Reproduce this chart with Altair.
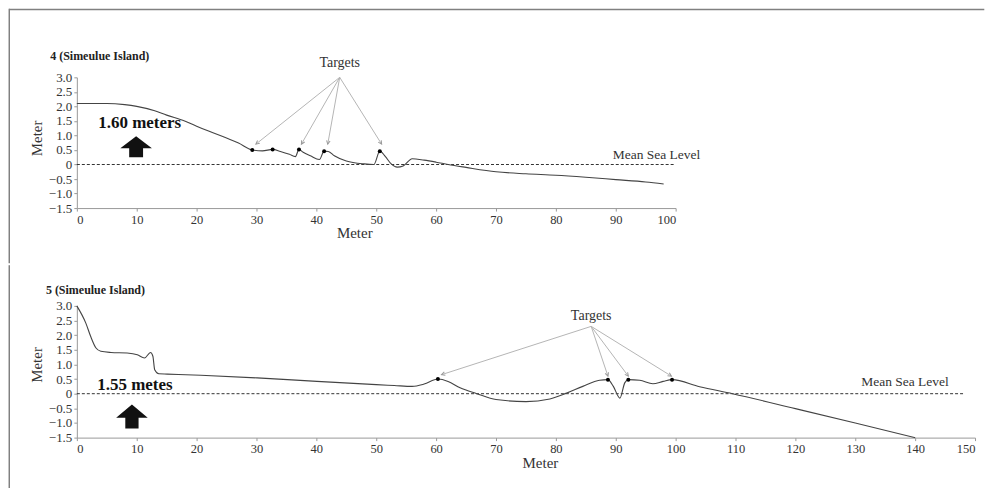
import math
import altair as alt
import pandas as pd

FONT = "Liberation Serif"

# ---------------- Profile 4 ----------------
x4 = [0, 3, 5, 8, 10, 13, 15, 18, 20, 22, 25, 27, 29.3, 31, 32.7, 34, 35.5, 36.5, 37.1, 37.8, 39,
      40.5, 41.3, 42, 43, 45, 48, 49.6, 50.6, 51.5, 52.5, 53.5, 54.5, 56, 58, 60, 62, 65, 70, 75,
      80, 85, 90, 95, 98]
y4 = [2.1, 2.1, 2.1, 2.06, 2.0, 1.85, 1.7, 1.5, 1.32, 1.15, 0.91, 0.74, 0.5, 0.47, 0.52, 0.45,
      0.35, 0.27, 0.52, 0.42, 0.3, 0.17, 0.46, 0.45, 0.3, 0.12, 0.02, 0.0, 0.46, 0.28, 0.02, -0.09,
      -0.05, 0.2, 0.15, 0.08, 0.0, -0.1, -0.25, -0.32, -0.37, -0.44, -0.52, -0.6, -0.67]
pts4_x = [29.3, 32.7, 37.1, 41.3, 50.6]
pts4_y = [0.5, 0.52, 0.52, 0.46, 0.46]
apex4 = (43.9, 3.0)
tips4_x = [29.9, 37.5, 41.9, 50.9]
tips4_y = [0.7, 0.7, 0.7, 0.7]

# ---------------- Profile 5 ----------------
x5 = [0, 1.5, 2.3, 3.2, 4, 5.7, 8.4, 10.1, 11.3, 12.3, 12.7, 13.0, 13.7, 15.1, 20.7, 30.1, 40.1,
      50, 53, 56, 58, 60.3, 62, 64, 66.8, 70, 75, 79, 81.8, 84.5, 87.3, 88.7, 89.6, 90.7, 91.5,
      92.1, 94, 96.2, 97.9, 99.4, 104, 109.5, 120, 130, 140]
y5 = [3.0, 2.41, 1.96, 1.56, 1.45, 1.41, 1.39, 1.33, 1.22, 1.41, 1.28, 0.82, 0.68, 0.67, 0.63,
      0.54, 0.42, 0.31, 0.28, 0.25, 0.33, 0.5, 0.42, 0.2, 0.0, -0.2, -0.27, -0.18, 0.02, 0.25,
      0.46, 0.48, 0.25, -0.15, 0.37, 0.48, 0.46, 0.34, 0.42, 0.48, 0.24, 0.0, -0.51, -1.0, -1.5]
pts5_x = [60.3, 88.7, 92.1, 99.4]
pts5_y = [0.5, 0.48, 0.48, 0.48]
apex5 = (85.9, 2.3)
tips5_x = [60.9, 88.7, 92.1, 99.3]
tips5_y = [0.65, 0.6, 0.6, 0.6]

y_ticks = [-1.5, -1.0, -0.5, 0, 0.5, 1.0, 1.5, 2.0, 2.5, 3.0]
y_domain = [-1.5, 3.0]

titles = ["4 (Simeulue Island)", "5 (Simeulue Island)"]

# annotation texts
targets4 = {"x": [43.9], "y": [3.5], "t": ["Targets"]}
targets5 = {"x": [85.9], "y": [2.66], "t": ["Targets"]}
msl4 = {"x": [96.8], "y": [0.34], "t": ["Mean Sea Level"]}
msl5 = {"x": [138.3], "y": [0.39], "t": ["Mean Sea Level"]}
big4 = {"x": [10.5], "y": [1.43], "t": ["1.60 meters"]}
big5 = {"x": [9.7], "y": [0.31], "t": ["1.55 metes"]}
arrow4 = {"x": [9.9], "y": [0.61]}
arrow5 = {"x": [9.2], "y": [-0.78]}

UP_ARROW4 = "M0,-0.66L1,0.09L0.44,0.09L0.44,0.66L-0.44,0.66L-0.44,0.09L-1,0.09Z"
UP_ARROW5 = "M0,-0.76L1,0.08L0.42,0.08L0.42,0.76L-0.42,0.76L-0.42,0.08L-1,0.08Z"
HEAD = "M-0.5,-1L0,0L0.5,-1"


def panel(xs, ys, px, py, apex, tx, ty, targets, msl, big, arrow, arrow_shape,
          xmax, msl_end, width, height, title, title_x, title_y,
          x_title_x, y_title_y, frame_top, frame_bottom, with_top_line):
    kx = width / xmax
    ky = height / (y_domain[1] - y_domain[0])
    xsc = alt.Scale(domain=[0, xmax], nice=False, zero=False)
    ysc = alt.Scale(domain=y_domain, nice=False, zero=False)
    xaxis = alt.Axis(values=list(range(0, xmax + 1, 10)), tickCount=40, grid=False, title="Meter",
                     domainColor="#999", tickColor="#999", tickSize=3, labelPadding=2,
                     labelOverlap=False,
                     labelFont=FONT, labelFontSize=12.5, labelColor="#333",
                     titleFont=FONT, titleFontSize=15, titleFontWeight="normal",
                     titleColor="#333", titlePadding=0, titleX=x_title_x)
    yaxis = alt.Axis(values=y_ticks, tickCount=40, grid=False, title="Meter",
                     labelExpr="datum.value == 0 ? '0' : format(datum.value, '.1f')",
                     labelOverlap=False,
                     domainColor="#999", tickColor="#999", tickSize=3, labelPadding=2,
                     labelFont=FONT, labelFontSize=13, labelColor="#333",
                     titleFont=FONT, titleFontSize=15, titleFontWeight="normal",
                     titleColor="#333", titlePadding=4, titleY=y_title_y)

    prof = pd.DataFrame({"x": xs, "y": ys})
    line = alt.Chart(prof).mark_line(color="#444", strokeWidth=1.1, interpolate="monotone").encode(
        x=alt.X("x:Q", scale=xsc, axis=xaxis),
        y=alt.Y("y:Q", scale=ysc, axis=yaxis),
    )
    msl_df = pd.DataFrame({"x": [0], "x2": [msl_end], "y": [0]})
    zero = alt.Chart(msl_df).mark_rule(color="#333", strokeWidth=1, strokeDash=[3, 2]).encode(
        x=alt.X("x:Q", scale=xsc, axis=xaxis), x2="x2:Q", y=alt.Y("y:Q", scale=ysc, axis=yaxis))

    pts = alt.Chart(pd.DataFrame({"x": px, "y": py})).mark_point(
        filled=True, color="black", size=16, opacity=1).encode(
        x=alt.X("x:Q", scale=xsc), y=alt.Y("y:Q", scale=ysc))

    seg = pd.DataFrame({"x": [apex[0]] * len(tx), "y": [apex[1]] * len(tx), "x2": tx, "y2": ty})
    seg["ang"] = [
        math.degrees(math.atan2(-(b - apex[0]) * kx, (apex[1] - c) * ky)) % 360
        for b, c in zip(tx, ty)
    ]
    leaders = alt.Chart(seg).mark_rule(color="#b5b5b5", strokeWidth=1).encode(
        x=alt.X("x:Q", scale=xsc), y=alt.Y("y:Q", scale=ysc), x2="x2:Q", y2="y2:Q")
    heads = alt.Chart(seg).mark_point(shape=HEAD, filled=False, color="#9a9a9a",
                                      strokeWidth=1, size=50, opacity=1).encode(
        x=alt.X("x2:Q", scale=xsc), y=alt.Y("y2:Q", scale=ysc), angle=alt.Angle("ang:Q", scale=None))

    def txt(d, size, weight, color):
        return alt.Chart(pd.DataFrame(d)).mark_text(
            font=FONT, fontSize=size, fontWeight=weight, color=color,
            align="center", baseline="middle").encode(
            x=alt.X("x:Q", scale=xsc), y=alt.Y("y:Q", scale=ysc), text="t:N")

    t_targets = txt(targets, 14, "normal", "#333")
    t_msl = txt(msl, 13.5, "normal", "#333")
    t_big = txt(big, 17, "bold", "#111")

    up = alt.Chart(pd.DataFrame(arrow)).mark_point(shape=arrow_shape, filled=True, color="#111",
                                                    size=1000, opacity=1).encode(
        x=alt.X("x:Q", scale=xsc), y=alt.Y("y:Q", scale=ysc))

    one = pd.DataFrame({"a": [0]})
    ttl = alt.Chart(pd.DataFrame({"t": [title]})).mark_text(
        font=FONT, fontSize=12, fontWeight="bold", color="#222", align="left",
        baseline="middle").encode(x=alt.value(title_x), y=alt.value(title_y), text="t:N")
    frame_left = alt.Chart(one).mark_rule(color="#808080", strokeWidth=1.5, strokeCap="square").encode(
        x=alt.value(-67.7), y=alt.value(frame_top), y2=alt.value(frame_bottom))
    layers = [zero, leaders, heads, line, pts, t_targets, t_msl, t_big, up, ttl, frame_left]
    if with_top_line:
        frame_top_line = alt.Chart(one).mark_rule(color="#808080", strokeWidth=1.5).encode(
            x=alt.value(-67.7), x2=alt.value(909.3), y=alt.value(frame_top))
        layers.append(frame_top_line)

    return alt.layer(*layers).properties(width=width, height=height)


top = panel(x4, y4, pts4_x, pts4_y, apex4, tips4_x, tips4_y, targets4, msl4, big4, arrow4,
            UP_ARROW4, 100, 100, 600, 131, titles[0], -26.7, -21,
            278, 60.7, -68, 185.5, True)
bottom = panel(x5, y5, pts5_x, pts5_y, apex5, tips5_x, tips5_y, targets5, msl5, big5, arrow5,
               UP_ARROW5, 150, 148, 900, 132, titles[1], -31, -16,
               464, 58.7, -40, 186, False)

chart = alt.vconcat(top, bottom, spacing=0).properties(
    padding={"left": 8, "top": 7, "right": 0, "bottom": 0},
    background="white",
).configure_view(strokeWidth=0).configure_axis(labelOverlap=False)

chart.save("out.html", embed_options={"renderer": "svg", "actions": False})
